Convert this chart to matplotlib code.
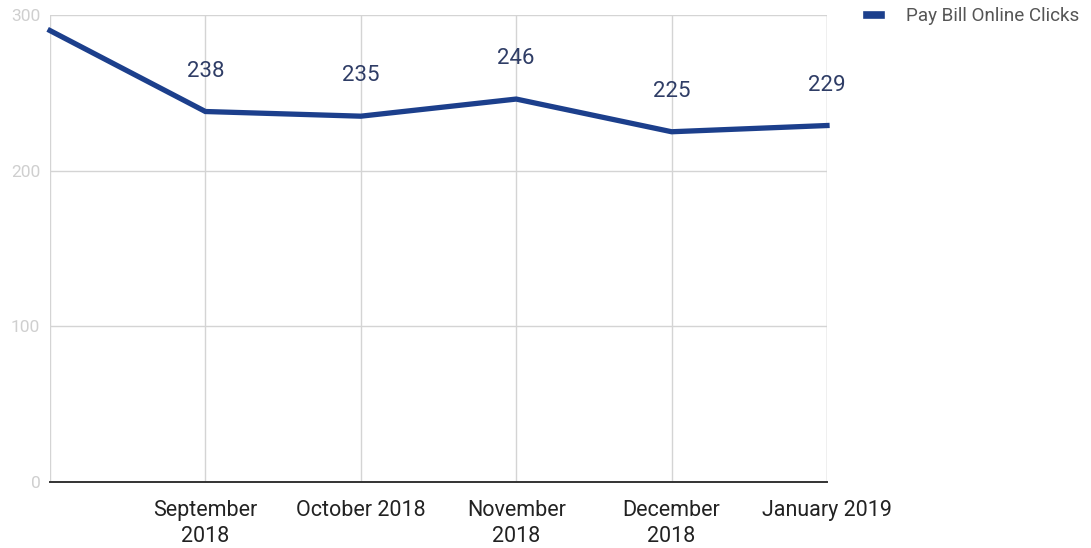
import matplotlib.pyplot as plt

plt.rcParams['font.family'] = ['Roboto', 'DejaVu Sans']

# monthly clicks, first month has no axis label
months = ['August 2018', 'September\n2018', 'October 2018', 'November\n2018',
          'December\n2018', 'January 2019']
clicks = [290, 238, 235, 246, 225, 229]
yticks = [0, 100, 200, 300]

line_color = '#1c3f8c'

fig = plt.figure(figsize=(10.91, 5.48), dpi=100)
ax = fig.add_axes([50 / 1091, 1 - 482 / 548, 777 / 1091, 467 / 548])

x = list(range(len(clicks)))
ax.plot(x, clicks, color=line_color, lw=3.8, solid_joinstyle='miter',
        label='Pay Bill Online Clicks', zorder=3, clip_on=False)

# value labels above each point except the first
for i in x[1:]:
    ax.annotate(str(clicks[i]), (i, clicks[i]), xytext=(0, 29),
                textcoords='offset points', ha='center', va='center',
                fontsize=16, color='#2f3d66')

ax.set_xlim(0, len(clicks) - 1)
ax.set_ylim(0, 300)
ax.set_yticks(yticks)
ax.set_yticklabels([str(v) for v in yticks], color='#cfcfcf', fontsize=12.5)
ax.set_xticks(x[1:])
ax.set_xticklabels(months[1:], fontsize=15.5, color='#222222', linespacing=1.3)
ax.tick_params(axis='both', length=0)
ax.tick_params(axis='x', pad=13)
ax.tick_params(axis='y', pad=7)

ax.grid(True, color='#d4d4d4', lw=1)
ax.set_axisbelow(True)
for s in ['top', 'right', 'left']:
    ax.spines[s].set_visible(False)
ax.spines['bottom'].set_color('#333333')
ax.spines['bottom'].set_linewidth(1.4)
ax.axvline(0, color='#d4d4d4', lw=1, zorder=0)
ax.axvline(len(clicks) - 1, color='#d4d4d4', lw=1, zorder=0)

leg = fig.legend(loc='upper left', bbox_to_anchor=(850 / 1091, 1.018),
                 frameon=False, fontsize=13.6, handlelength=0.75,
                 handletextpad=1.3, labelcolor='#555555')
for h in leg.get_lines():
    h.set_linewidth(5.5)

fig.savefig('out.png', dpi=100)
